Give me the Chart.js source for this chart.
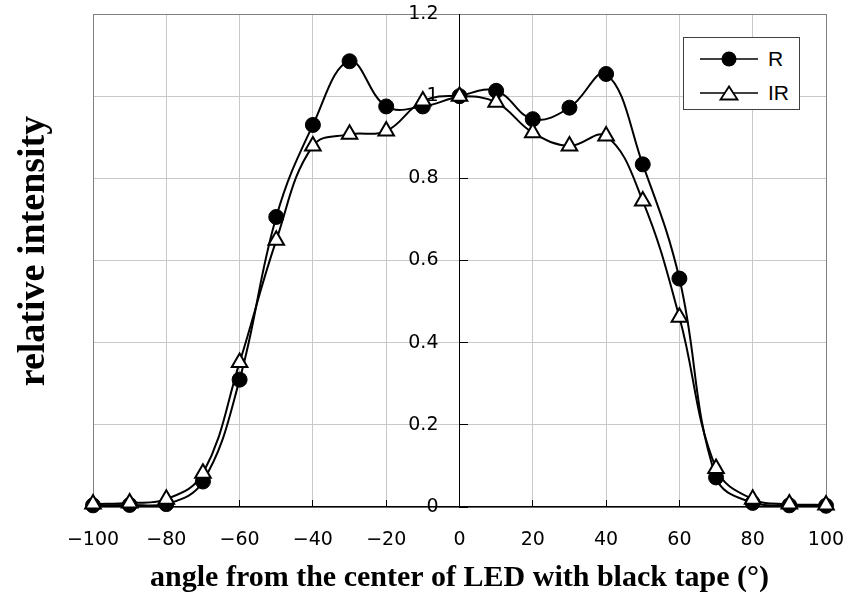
<!DOCTYPE html>
<html>
<head>
<meta charset="utf-8">
<script src="https://cdn.jsdelivr.net/npm/chart.js@4.4.1/dist/chart.umd.min.js"></script>
<style>
  html, body { margin: 0; padding: 0; background: #fff; }
  #wrap { position: relative; width: 852px; height: 598px; }
  #legend {
    position: absolute; left: 683px; top: 37px; width: 115px; height: 71px;
    border: 1px solid #404040; background: #fff;
    font-family: "Liberation Sans", Arial, sans-serif; font-size: 21px; color: #000;
  }
  #legend .row { position: absolute; left: 16px; height: 24px; display: flex; align-items: center; }
  #legend .row svg { margin-right: 8px; }
</style>
</head>
<body>
<div id="wrap">
  <canvas id="chart" width="852" height="598"></canvas>
  <div id="legend">
    <div class="row" style="top:9px">
      <svg width="60" height="20"><line x1="0" y1="10" x2="58" y2="10" stroke="#000" stroke-width="1.5"/><circle cx="29" cy="10" r="7.5" fill="#000"/></svg><span>R</span>
    </div>
    <div class="row" style="top:43px">
      <svg width="60" height="20"><line x1="0" y1="10" x2="58" y2="10" stroke="#000" stroke-width="1.5"/><polygon points="29,3.5 20.5,16.5 37.5,16.5" fill="#fff" stroke="#000" stroke-width="1.8"/></svg><span>IR</span>
    </div>
  </div>
</div>
<script>
// 角度 (°)
var angles = [-100, -90, -80, -70, -60, -50, -40, -30, -20, -10, 0, 10, 20, 30, 40, 50, 60, 70, 80, 90, 100];
// 相対強度
var rValues  = [0.004, 0.005, 0.007, 0.062, 0.31, 0.706, 0.93, 1.085, 0.975, 0.975, 1.0, 1.013, 0.944, 0.972, 1.054, 0.834, 0.556, 0.072, 0.01, 0.004, 0.003];
var irValues = [0.007, 0.01, 0.019, 0.082, 0.352, 0.649, 0.879, 0.907, 0.915, 0.988, 1.0, 0.985, 0.911, 0.879, 0.903, 0.745, 0.462, 0.094, 0.019, 0.007, 0.005];

var xTicks = [-100, -80, -60, -40, -20, 0, 20, 40, 60, 80, 100];
var yTicks = [0, 0.2, 0.4, 0.6, 0.8, 1, 1.2];

var tickFont = { family: '"DejaVu Sans", sans-serif', size: 19 };
var titleFont = { family: '"Liberation Serif", "Times New Roman", serif', weight: 'bold' };
var gridColor = '#c8c8c8';
var frameColor = '#808080';

function pts(vals) {
  return angles.map(function(a, i) { return { x: a, y: vals[i] }; });
}
function setTicks(list) {
  return function(s) { s.ticks = list.map(function(v) { return { value: v }; }); };
}

new Chart(document.getElementById('chart'), {
  type: 'line',
  data: {
    datasets: [{
      label: 'R',
      data: pts(rValues),
      order: 2,
      clip: false,
      borderColor: '#000',
      borderWidth: 2,
      tension: 0.4,
      pointStyle: 'circle',
      pointRadius: 7.5,
      pointBackgroundColor: '#000',
      pointBorderColor: '#000',
      pointBorderWidth: 1
    }, {
      label: 'IR',
      data: pts(irValues),
      order: 1,
      clip: false,
      borderColor: '#000',
      borderWidth: 2,
      tension: 0.4,
      pointStyle: 'triangle',
      pointRadius: 9,
      pointBackgroundColor: '#fff',
      pointBorderColor: '#000',
      pointBorderWidth: 2
    }]
  },
  options: {
    responsive: false,
    animation: false,
    layout: { padding: { top: 14, right: 26, bottom: 0, left: 0 } },
    plugins: { legend: { display: false }, tooltip: { enabled: false } },
    scales: {
      x: {
        type: 'linear', position: 'bottom', min: -100, max: 100,
        afterBuildTicks: setTicks(xTicks),
        afterFit: function(s) { s.height = 91; },
        // padding 要小，不然會把右邊往內推；用行高把字往下移
        ticks: {
          color: '#000', font: Object.assign({ lineHeight: 3.5 }, tickFont), padding: 7, maxRotation: 0,
          callback: function(v) { return String(v).replace('-', '\u2212'); }
        },
        grid: { color: gridColor, tickLength: -7, tickColor: '#000' },
        border: { color: '#000', width: 1.5 },
        title: {
          display: true, text: 'angle from the center of LED with black tape (°)',
          color: '#000', font: Object.assign({ size: 30 }, titleFont), padding: { top: 0, bottom: 2 }
        }
      },
      xTop: {
        type: 'linear', position: 'top', min: -100, max: 100,
        afterFit: function(s) { s.height = 0; },
        ticks: { display: false },
        grid: { display: true, drawOnChartArea: false, drawTicks: false },
        border: { color: frameColor, width: 1 }
      },
      // 中央的 y 軸：文字在左，刻度線另一條軸畫在右
      y: {
        type: 'linear', position: 'center', min: 0, max: 1.2,
        afterBuildTicks: setTicks(yTicks),
        ticks: {
          color: '#000', font: tickFont, padding: 0,
          callback: function(v) { return String(Math.round(v * 10) / 10); }
        },
        grid: { color: gridColor, tickLength: 21, tickColor: 'rgba(0,0,0,0)' },
        border: { color: '#000', width: 1 }
      },
      yMarks: {
        type: 'linear', position: 'center', min: 0, max: 1.2,
        afterBuildTicks: setTicks(yTicks),
        ticks: { display: false, padding: 0 },
        grid: { drawOnChartArea: false, tickLength: -8, tickColor: '#000' },
        border: { display: false }
      },
      yLeft: {
        type: 'linear', position: 'left', min: 0, max: 1.2,
        afterFit: function(s) { s.width = 93; },
        ticks: { display: false },
        grid: { display: true, drawOnChartArea: false, drawTicks: false },
        border: { color: frameColor, width: 1 },
        title: {
          display: true, text: '\u2002relative intensity', color: '#000',
          font: Object.assign({ size: 38 }, titleFont), padding: { top: 11, bottom: 0 }
        }
      },
      yRight: {
        type: 'linear', position: 'right', min: 0, max: 1.2,
        afterFit: function(s) { s.width = 0; },
        ticks: { display: false },
        grid: { display: true, drawOnChartArea: false, drawTicks: false },
        border: { color: frameColor, width: 1 }
      }
    }
  }
});
</script>
</body>
</html>
